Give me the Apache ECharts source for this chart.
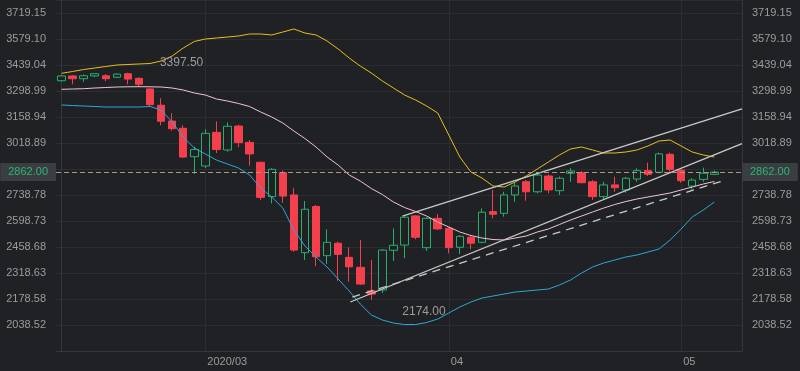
<!DOCTYPE html>
<html><head><meta charset="utf-8">
<script src="https://cdn.jsdelivr.net/npm/echarts@6/dist/echarts.min.js"></script>
<style>html,body{margin:0;padding:0;background:#1f2125;}#c{width:800px;height:371px;}</style>
</head><body><div id="c"></div><script>
// categories (trading days) + two empty future slots
const dates = [
 '2020/02/11','2020/02/12','2020/02/13','2020/02/14','2020/02/18','2020/02/19','2020/02/20','2020/02/21','2020/02/24','2020/02/25','2020/02/26','2020/02/27','2020/02/28',
 '2020/03/02','2020/03/03','2020/03/04','2020/03/05','2020/03/06','2020/03/09','2020/03/10','2020/03/11','2020/03/12','2020/03/13','2020/03/16','2020/03/17','2020/03/18','2020/03/19','2020/03/20','2020/03/23','2020/03/24','2020/03/25','2020/03/26','2020/03/27','2020/03/30','2020/03/31',
 '2020/04/01','2020/04/02','2020/04/03','2020/04/06','2020/04/07','2020/04/08','2020/04/09','2020/04/13','2020/04/14','2020/04/15','2020/04/16','2020/04/17','2020/04/20','2020/04/21','2020/04/22','2020/04/23','2020/04/24','2020/04/27','2020/04/28','2020/04/29','2020/04/30',
 '2020/05/01','2020/05/04','2020/05/05','2020/05/06','2020/05/07','2020/05/08'
];
// [open, close, lowest, highest]
const candles = [
 [3354,3380,3350,3385],[3380,3365,3335,3385],[3365,3381,3349,3388],[3380,3392,3374,3393],[3381,3365,3351,3390],
 [3373,3390,3369,3394],[3392,3363,3335,3397.5],[3367,3335,3322,3372],[3310,3225,3214,3313],[3222,3136,3114,3260],
 [3137,3096,3085,3179],[3098,2943,2938,3114],[2945,2984,2852,2999],[2895,3071,2884,3093],[3076,2984,2965,3135],
 [2981,3109,2972,3130],[3110,3021,2996,3117],[3022,2960,2897,3035],[2915,2726,2712,2918],[2730,2877,2694,2883],
 [2859,2733,2697,2870],[2739,2442,2433,2775],[2428,2662,2389,2706],[2677,2406,2356,2685],[2412,2484,2367,2554],
 [2479,2419,2277,2487],[2403,2352,2272,2457],[2349,2259,2254,2496],[2222,2205,2174,2389],[2227,2442,2211,2448],
 [2441,2468,2383,2559],[2469,2619,2398,2623],[2626,2511,2500,2631],[2455,2613,2437,2619],[2613,2556,2550,2636],
 [2559,2455,2425,2566],[2457,2516,2421,2523],[2511,2479,2446,2523],[2484,2646,2479,2667],[2649,2635,2613,2766],
 [2640,2739,2622,2756],[2739,2787,2703,2805],[2810,2756,2708,2819],[2756,2846,2748,2852],[2841,2766,2748,2849],
 [2762,2829,2739,2838],[2856,2868,2810,2883],[2859,2805,2802,2868],[2810,2730,2712,2819],[2730,2793,2716,2810],
 [2793,2778,2756,2837],[2766,2829,2751,2836],[2825,2870,2810,2883],[2870,2850,2841,2913],[2861,2960,2856,2967],
 [2958,2877,2864,2967],[2873,2816,2805,2876],[2787,2819,2769,2829],[2823,2856,2810,2886],[2850,2862,2846,2870],
 '-','-'
];
const bollUpper = [3394.2,3403.9,3414.6,3422.7,3430.8,3438.9,3441.6,3444.3,3447.0,3460.4,3487.4,3530.4,3565.5,3578.9,3584.3,3589.7,3595.1,3605.9,3605.9,3600.5,3616.6,3632.8,3611.2,3600.5,3568.2,3525.1,3476.6,3433.5,3395.8,3352.7,3315.0,3277.3,3250.4,3218.0,3180.3,3061.8,2943.3,2862.5,2830.2,2787.1,2781.7,2808.7,2841.0,2878.7,2916.4,2954.1,2986.4,2997.2,2981.0,2964.9,2964.9,2970.3,2981.0,3002.6,3029.5,3034.9,3002.6,2970.3,2954.1,2943.3];
const bollMid = [3308.0,3309.6,3311.2,3315.0,3317.7,3320.4,3321.5,3322.0,3321.5,3320.4,3315.0,3304.2,3288.1,3277.3,3255.7,3245.0,3231.5,3215.3,3185.7,3158.8,3126.5,3083.4,3043.0,2997.2,2943.3,2900.2,2846.4,2814.0,2773.6,2741.3,2700.9,2671.3,2649.8,2625.5,2593.2,2566.3,2539.3,2520.5,2507.0,2498.9,2496.2,2507.0,2517.8,2539.3,2555.5,2579.7,2604.0,2625.5,2647.1,2668.6,2687.5,2703.6,2717.1,2727.9,2738.6,2749.4,2765.6,2781.7,2797.9,2811.4];
const bollLower = [3223.4,3220.7,3218.0,3215.3,3212.6,3212.6,3212.6,3212.6,3215.3,3196.5,3131.9,3051.1,2991.8,2959.5,2927.2,2905.6,2884.1,2846.4,2776.3,2727.9,2668.6,2550.1,2463.9,2404.7,2350.8,2286.2,2221.5,2151.5,2092.3,2065.3,2049.2,2041.1,2041.1,2051.9,2070.7,2103.0,2135.3,2162.3,2183.8,2194.6,2205.4,2216.1,2221.5,2226.9,2232.3,2253.8,2280.8,2318.5,2350.8,2372.4,2388.5,2404.7,2415.4,2431.6,2447.8,2496.2,2555.5,2620.1,2657.8,2700.9];
const lastPrice = 2862.00;
// trend lines: [category position, price]
const trendUpper = [[30.81,2625.5],[61.5,3202.9]];
const trendLower = [[26.1,2162.3],[61.5,3015.5]];
const trendDashed = [[26.28,2189.2],[59.6,2811.9]];
const yMin = 1898.472, yStep = 140.052, yMax = 3789.0;

const UP = '#26b16a', DOWN = '#f4404d', BG = '#1f2125';
const monthStart = dates.map((d,i)=> i>0 && d.slice(0,7)!==dates[i-1].slice(0,7));
let firstLab = true;
const xLabels = dates.map((d,i)=>{ if(!monthStart[i]) return ''; const s = firstLab ? d.slice(0,7) : d.slice(5,7); firstLab=false; return s; });

const yAxisBase = {
  type:'value', min:yMin, max:yMax, interval:yStep, scale:true,
  axisLine:{show:true,lineStyle:{color:'#34383d'}}, axisTick:{show:false},
  axisLabel:{color:'#9c9c9c',fontSize:11,margin:10,showMinLabel:false,showMaxLabel:false,fontFamily:'Liberation Sans, Arial, sans-serif',formatter:v=>v.toFixed(2)}
};
const priceLabel = {show:true, formatter:()=>lastPrice.toFixed(2), color:'#2bb673', backgroundColor:'#3a3e43', fontSize:11, lineHeight:12, padding:[3,8], distance:0, fontFamily:'Liberation Sans, Arial, sans-serif'};

const chart = echarts.init(document.getElementById('c'));
chart.setOption({
  backgroundColor: BG,
  animation:false,
  grid:{left:56,right:58,top:0,bottom:20},
  xAxis:[
    {type:'category', data:dates, boundaryGap:true,
     axisLine:{show:true,lineStyle:{color:'#34383d'}}, axisTick:{show:false,alignWithLabel:true},
     axisLabel:{color:'#9c9c9c',fontSize:11,margin:5,align:'left',padding:[0,0,0,2],fontFamily:'Liberation Sans, Arial, sans-serif',
       interval:(i)=>monthStart[i], formatter:(v,i)=>xLabels[i]},
     splitLine:{show:true,alignWithLabel:true,interval:(i)=>monthStart[i],lineStyle:{color:'#2b2f34'}}},
    {type:'value', min:-0.5, max:dates.length-0.5, show:false}
  ],
  yAxis:[
    Object.assign({}, yAxisBase, {position:'left', splitLine:{show:true,lineStyle:{color:'#2a2e33'}}}),
    Object.assign({}, yAxisBase, {position:'right', splitLine:{show:false}})
  ],
  series:[
    {type:'candlestick', data:candles, barWidth:8,
     itemStyle:{color:BG, color0:DOWN, borderColor:UP, borderColor0:DOWN, borderWidth:1},
     markPoint:{symbol:'circle', symbolSize:0, silent:true,
       label:{show:true,position:'inside',align:'left',verticalAlign:'middle',color:'#9c9c9c',fontSize:12,fontFamily:'Liberation Sans, Arial, sans-serif',formatter:p=>Number(p.value).toFixed(2)},
       data:[{type:'max',valueDim:'highest',label:{offset:[32,-10]}},{type:'min',valueDim:'lowest',label:{offset:[31,12]}}]},
     markLine:{symbol:['none','none'], silent:true, lineStyle:{color:'#ad9886',type:[5,3],width:1},
       data:[{yAxis:lastPrice,label:Object.assign({},priceLabel,{position:'start'})},{yAxis:lastPrice,label:Object.assign({},priceLabel,{position:'end'})}]}
    },
    {type:'line', data:bollUpper, symbol:'none', lineStyle:{color:'#e6bf1c',width:1}, z:3},
    {type:'line', data:bollMid, symbol:'none', lineStyle:{color:'#f1c3d6',width:1}, z:3},
    {type:'line', data:bollLower, symbol:'none', lineStyle:{color:'#2fa6d8',width:1}, z:3},
    {type:'line', xAxisIndex:1, data:trendUpper, symbol:'none', lineStyle:{color:'#c9c9c9',width:1.3}, z:4},
    {type:'line', xAxisIndex:1, data:trendLower, symbol:'none', lineStyle:{color:'#c9c9c9',width:1.3}, z:4},
    {type:'line', xAxisIndex:1, data:trendDashed, symbol:'none', lineStyle:{color:'#c9c9c9',width:1.3,type:[8,6]}, z:4}
  ]
});
</script></body></html>
